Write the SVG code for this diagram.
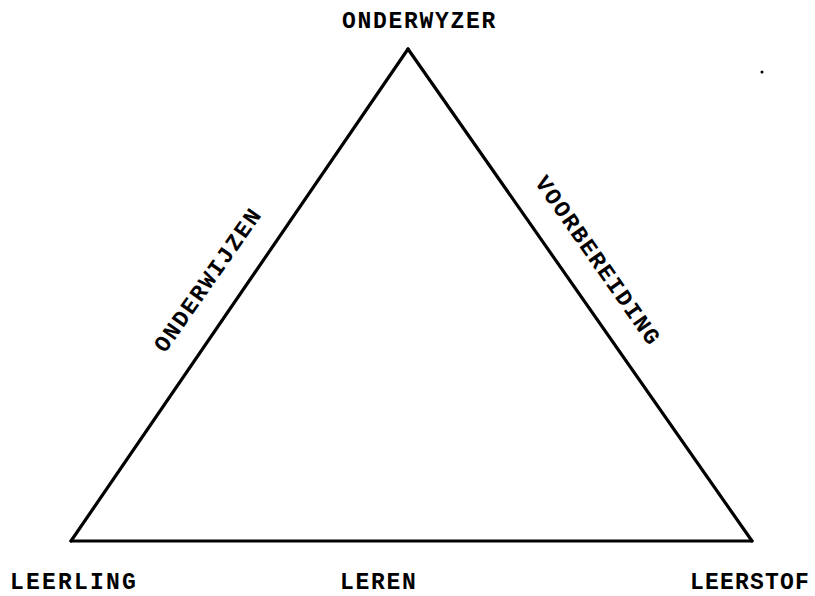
<svg xmlns="http://www.w3.org/2000/svg" width="815" height="596" viewBox="0 0 815 596">
<style>
.t{font-family:"Liberation Mono","Courier New",monospace;font-weight:bold;font-size:23px;letter-spacing:1.7px;fill:#000}
.e{stroke:#000;stroke-width:3.2;fill:none;stroke-linejoin:miter;stroke-linecap:round}
</style>
<rect width="815" height="596" fill="#fff"/>
<g id="connectors">
<path class="e" d="M408,49 L71,541"/>
<path class="e" d="M408,49 L752,541"/>
<path class="e" d="M71,541 L752,541"/>
</g>
<g id="onderwyzer"><text class="t" x="342" y="28">ONDERWYZER</text></g>
<g id="leerling"><text class="t" x="10" y="589" style="letter-spacing:2.2px">LEERLING</text></g>
<g id="leren"><text class="t" x="340" y="589">LEREN</text></g>
<g id="leerstof"><text class="t" x="690" y="589" style="letter-spacing:1.2px">LEERSTOF</text></g>
<g id="onderwijzen"><text class="t" text-anchor="middle" transform="translate(214,284) rotate(-55)">ONDERWIJZEN</text></g>
<g id="voorbereiding"><text class="t" text-anchor="middle" transform="translate(592,265) rotate(55)">VOORBEREIDING</text></g>
<circle cx="762" cy="72" r="1.5" fill="#000"/>
</svg>
